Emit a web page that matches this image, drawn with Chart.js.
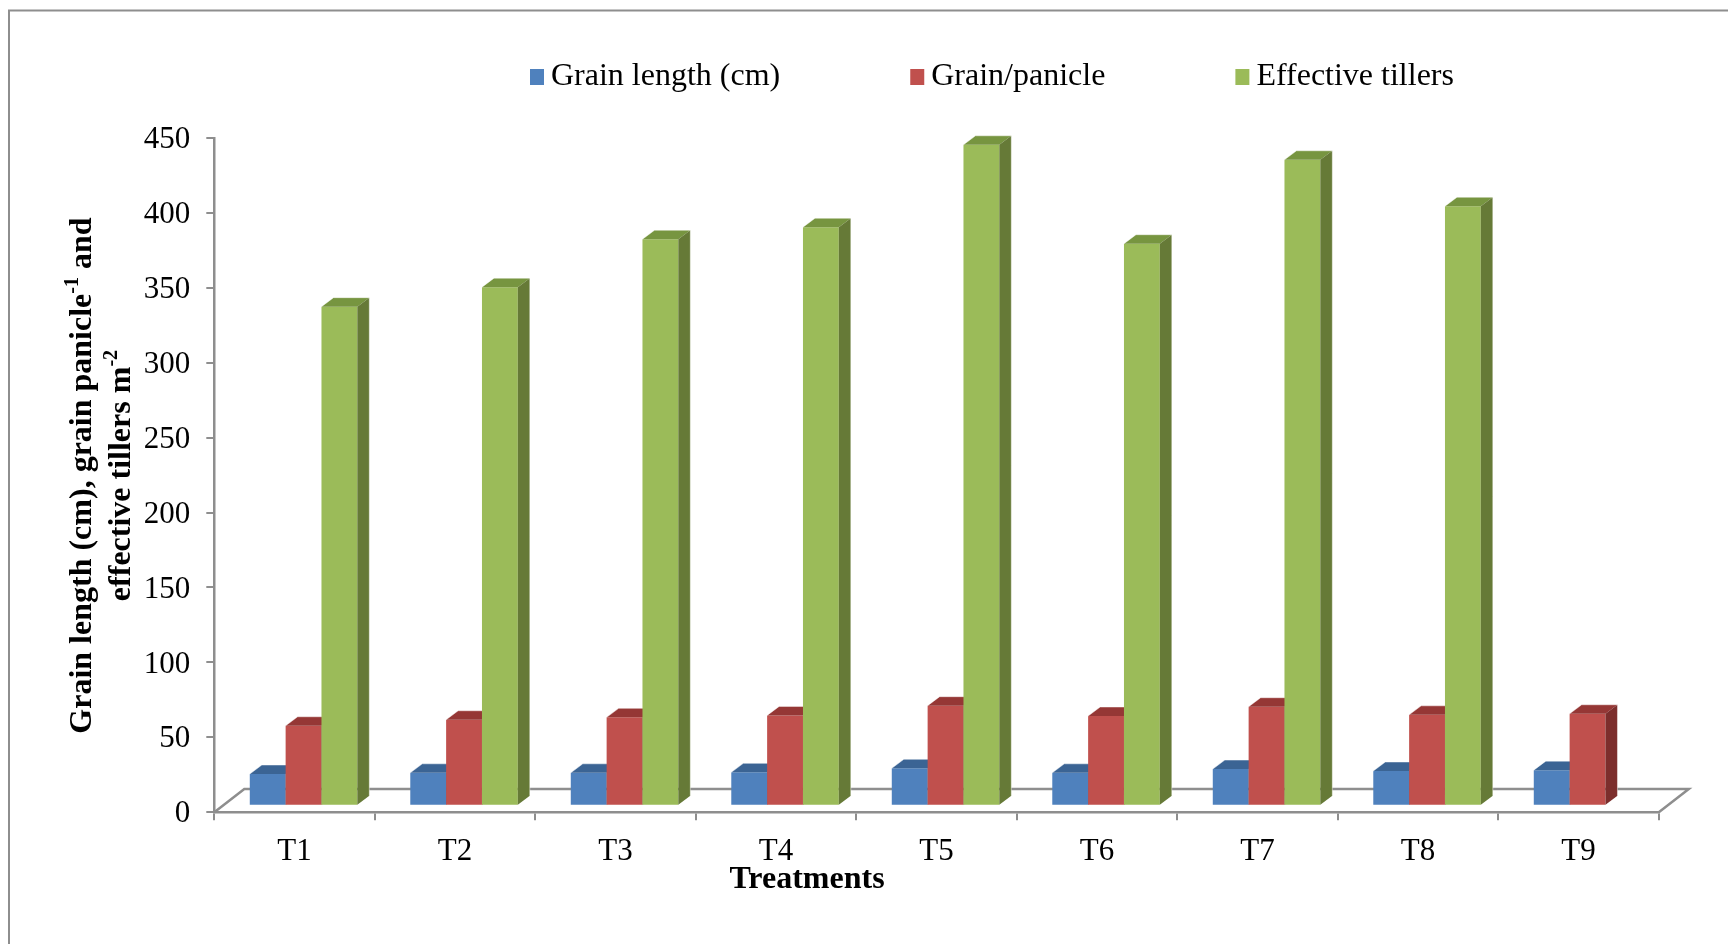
<!DOCTYPE html>
<html>
<head>
<meta charset="utf-8">
<title>Grain length, grain per panicle and effective tillers by treatment</title>
<script src="https://cdn.jsdelivr.net/npm/chart.js@4/dist/chart.umd.min.js"></script>
<style>
  html, body { margin: 0; padding: 0; background: #ffffff; }
  canvas { display: block; }
</style>
</head>
<body>
<canvas id="chart" width="1728" height="944"></canvas>
<script>
// ---- data ----
const categories = ['T1', 'T2', 'T3', 'T4', 'T5', 'T6', 'T7', 'T8', 'T9'];
const grainLength = [21.2, 22.0, 22.0, 22.3, 25.0, 22.0, 24.5, 23.2, 23.8];
const grainPerPanicle = [53.4, 57.4, 59.0, 60.3, 66.8, 59.9, 66.1, 60.7, 61.4];
const effectiveTillers = [333, 346, 378, 386, 441, 375, 431, 400, null];
const seriesNames = ['Grain length (cm)', 'Grain/panicle', 'Effective tillers'];
const yMin = 0;
const yMax = 450;
const yStep = 50;
const xTitle = 'Treatments';
// y title: two lines, each a list of [text, isSuperscript]
const yTitleLines = [
  [['Grain length (cm), grain panicle', false], ['-1', true], [' and', false]],
  [['effective tillers m', false], ['-2', true]]
];

// ---- styling ----
const FONT = "'Liberation Serif', 'Times New Roman', serif";
const AXIS_GREY = '#8e8e8e';
const palette = [
  { front: '#4f81bd', top: '#3b6494', side: '#375a87' },
  { front: '#c0504d', top: '#953735', side: '#7c2e2c' },
  { front: '#9bbb59', top: '#779540', side: '#667a37' }
];
// oblique depth of the 3-D floor and of the bar solids
const FLOOR_DX = 30, FLOOR_DY = 23.3;
const ROW_DX = 9, ROW_DY = 6.5;       // bars stand partway back on the floor
const BAR_DX = 12, BAR_DY = 9;        // depth of each bar

const seriesValues = [grainLength, grainPerPanicle, effectiveTillers];

// page frame
const framePlugin = {
  id: 'frame',
  beforeDraw(chart) {
    const ctx = chart.ctx;
    ctx.save();
    ctx.fillStyle = '#ffffff';
    ctx.fillRect(0, 0, chart.width, chart.height);
    ctx.strokeStyle = AXIS_GREY;
    ctx.lineWidth = 2;
    ctx.strokeRect(9, 10.5, chart.width + 20, chart.height + 20);
    ctx.restore();
  }
};

// floor outline, then the columns as solids: drawn group by group,
// left to right, so each column hides the hidden faces of its neighbour
const solidPlugin = {
  id: 'solid',
  beforeDatasetDraw() {
    return false;
  },
  afterDatasetsDraw(chart) {
    const ctx = chart.ctx;
    const xs = chart.scales.x, ys = chart.scales.y;
    const l = xs.left, r = xs.right, b = ys.getPixelForValue(0);
    ctx.save();
    ctx.strokeStyle = AXIS_GREY;
    ctx.lineWidth = 2.5;
    ctx.beginPath();
    ctx.moveTo(l, b);
    ctx.lineTo(l + FLOOR_DX, b - FLOOR_DY);
    ctx.lineTo(r + FLOOR_DX, b - FLOOR_DY);
    ctx.lineTo(r, b);
    ctx.stroke();
    ctx.restore();

    ctx.save();
    ctx.translate(ROW_DX, -ROW_DY);
    const n = chart.data.labels.length;
    for (let i = 0; i < n; i++) {
      chart.data.datasets.forEach((ds, d) => {
        const v = ds.data[i];
        if (v === null || !Number.isFinite(v)) return;
        const bar = chart.getDatasetMeta(d).data[i];
        const col = palette[d];
        bar.draw(ctx);
        const p = bar.getProps(['x', 'y', 'base', 'width'], true);
        const x0 = p.x - p.width / 2, x1 = p.x + p.width / 2;
        const top = p.y, base = p.base;
        // top face
        ctx.fillStyle = col.top;
        ctx.beginPath();
        ctx.moveTo(x0, top);
        ctx.lineTo(x1, top);
        ctx.lineTo(x1 + BAR_DX, top - BAR_DY);
        ctx.lineTo(x0 + BAR_DX, top - BAR_DY);
        ctx.closePath();
        ctx.fill();
        // right face
        ctx.fillStyle = col.side;
        ctx.beginPath();
        ctx.moveTo(x1, top);
        ctx.lineTo(x1 + BAR_DX, top - BAR_DY);
        ctx.lineTo(x1 + BAR_DX, base - BAR_DY);
        ctx.lineTo(x1, base);
        ctx.closePath();
        ctx.fill();
        // light rim
        ctx.strokeStyle = 'rgba(255,255,255,0.45)';
        ctx.lineWidth = 1;
        ctx.beginPath();
        ctx.moveTo(x0, top);
        ctx.lineTo(x0 + BAR_DX, top - BAR_DY);
        ctx.lineTo(x1 + BAR_DX, top - BAR_DY);
        ctx.lineTo(x1 + BAR_DX, base - BAR_DY);
        ctx.stroke();
      });
    }
    ctx.restore();
  }
};

// legend, axis titles
const textPlugin = {
  id: 'texts',
  afterDraw(chart) {
    const ctx = chart.ctx;
    ctx.save();
    ctx.fillStyle = '#000000';
    ctx.textBaseline = 'middle';

    // legend row
    ctx.font = '32px ' + FONT;
    let lx = 530;
    const ly = 77;
    seriesNames.forEach((name, i) => {
      ctx.fillStyle = palette[i].front;
      ctx.fillRect(lx, ly - 8, 14, 16);
      ctx.fillStyle = '#000000';
      ctx.textAlign = 'left';
      ctx.fillText(name, lx + 21, ly);
      lx += 21 + ctx.measureText(name).width + 130;
    });

    // x title
    ctx.font = 'bold 32px ' + FONT;
    ctx.textAlign = 'center';
    ctx.fillText(xTitle, 807, 880);

    // y title, rotated, with superscripts
    const ys = chart.scales.y;
    const cy = (ys.top + ys.bottom) / 2 + 0.5;
    const lineX = [82.6, 122];
    const mainFont = 'bold 32px ' + FONT;
    const supFont = 'bold 20px ' + FONT;
    yTitleLines.forEach((runs, li) => {
      let total = 0;
      runs.forEach(([t, sup]) => {
        ctx.font = sup ? supFont : mainFont;
        total += ctx.measureText(t).width;
      });
      ctx.save();
      ctx.translate(lineX[li], cy);
      ctx.rotate(-Math.PI / 2);
      ctx.textAlign = 'left';
      let x = -total / 2;
      runs.forEach(([t, sup]) => {
        ctx.font = sup ? supFont : mainFont;
        ctx.fillText(t, x, sup ? -10 : 0);
        x += ctx.measureText(t).width;
      });
      ctx.restore();
    });
    ctx.restore();
  }
};

const datasets = seriesValues.map((vals, i) => ({
  label: seriesNames[i],
  data: vals,
  backgroundColor: palette[i].front,
  borderWidth: 0,
  clip: false
}));

new Chart(document.getElementById('chart'), {
  type: 'bar',
  data: { labels: categories, datasets },
  plugins: [framePlugin, solidPlugin, textPlugin],
  options: {
    responsive: false,
    animation: false,
    devicePixelRatio: 1,
    categoryPercentage: 0.67,
    barPercentage: 1.0,
    layout: { padding: { top: 137.8, right: 69.2, left: 0, bottom: 0 } },
    plugins: {
      legend: { display: false },
      tooltip: { enabled: false },
      title: { display: false }
    },
    scales: {
      x: {
        offset: true,
        grid: {
          offset: true,
          drawOnChartArea: false,
          drawTicks: true,
          tickLength: 8,
          color: AXIS_GREY,
          lineWidth: 2
        },
        border: { display: true, color: AXIS_GREY, width: 2.5 },
        ticks: {
          color: '#000000',
          font: { family: FONT, size: 31 },
          padding: 13,
          maxRotation: 0
        },
        afterFit(scale) { scale.height = 944 - 812.3; }
      },
      y: {
        min: yMin,
        max: yMax,
        grid: {
          drawOnChartArea: false,
          drawTicks: true,
          tickLength: 8,
          color: AXIS_GREY,
          lineWidth: 2
        },
        border: { display: true, color: AXIS_GREY, width: 2.5 },
        ticks: {
          stepSize: yStep,
          color: '#000000',
          font: { family: FONT, size: 31 },
          padding: 16,
          labelOffset: 2
        },
        afterFit(scale) { scale.width = 214.3; }
      }
    }
  }
});
</script>
</body>
</html>
